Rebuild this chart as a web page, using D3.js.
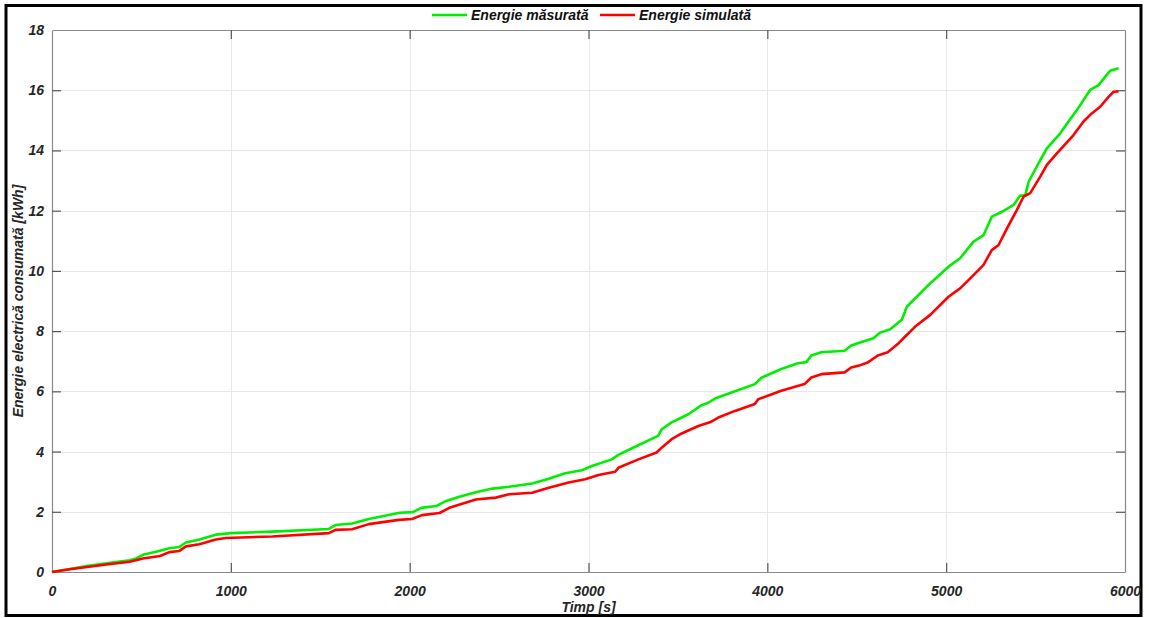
<!DOCTYPE html>
<html>
<head>
<meta charset="utf-8">
<script src="https://cdn.jsdelivr.net/npm/d3@7"></script>
<style>
  html, body { margin: 0; padding: 0; background: #fff; }
  svg { display: block; }
  text { font-family: "Liberation Sans", Arial, sans-serif; font-weight: bold; font-style: italic; }
</style>
</head>
<body>
<svg id="chart" width="1149" height="618"></svg>
<script>
// Cumulative consumed energy: measured series
const timeMeasured = [0,100,193,304,434,470,508,582,656,712,749,824,916,1000,1232,1548,1585,1678,1771,1944,2018,2065,2148,2204,2278,2370,2463,2556,2685,2778,2870,2963,3019,3130,3167,3278,3389,3409,3465,3558,3632,3670,3707,3819,3930,3967,4078,4171,4218,4246,4302,4432,4469,4519,4593,4631,4687,4752,4780,4892,5013,5078,5153,5209,5255,5321,5377,5414,5442,5461,5526,5563,5638,5684,5731,5805,5852,5917,5964];
const energyMeasured = [0,0.1,0.2,0.29,0.39,0.45,0.57,0.67,0.79,0.83,0.98,1.08,1.24,1.29,1.34,1.43,1.56,1.61,1.76,1.97,1.99,2.13,2.19,2.36,2.5,2.65,2.77,2.83,2.94,3.1,3.28,3.38,3.52,3.74,3.89,4.21,4.52,4.74,4.97,5.24,5.54,5.62,5.76,6.0,6.24,6.45,6.74,6.93,6.97,7.19,7.3,7.35,7.52,7.62,7.76,7.95,8.06,8.38,8.81,9.48,10.14,10.42,10.97,11.19,11.8,11.99,12.19,12.5,12.5,12.96,13.68,14.07,14.57,14.96,15.34,16.01,16.17,16.65,16.73];

// Cumulative consumed energy: simulated series
const timeSimulated = [0,100,304,434,508,604,656,712,749,824,916,972,1232,1548,1585,1678,1771,1939,2013,2069,2167,2222,2370,2481,2556,2685,2778,2889,2981,3056,3149,3167,3279,3381,3409,3465,3521,3614,3679,3726,3819,3930,3949,4078,4208,4246,4302,4432,4469,4519,4562,4618,4673,4729,4771,4827,4911,5013,5078,5153,5209,5255,5293,5340,5395,5433,5470,5526,5563,5619,5712,5768,5814,5861,5908,5936,5964];
const energySimulated = [0,0.09,0.25,0.34,0.45,0.53,0.66,0.7,0.85,0.92,1.08,1.13,1.18,1.29,1.4,1.42,1.59,1.73,1.76,1.89,1.96,2.13,2.41,2.47,2.58,2.63,2.8,2.97,3.08,3.22,3.33,3.46,3.74,3.97,4.13,4.41,4.6,4.85,4.97,5.13,5.35,5.58,5.74,6.02,6.24,6.46,6.57,6.63,6.79,6.87,6.96,7.19,7.3,7.57,7.82,8.15,8.54,9.14,9.42,9.86,10.2,10.69,10.86,11.41,12.02,12.47,12.58,13.13,13.52,13.9,14.51,14.96,15.23,15.45,15.78,15.95,15.96];

const xTicks = [0,1000,2000,3000,4000,5000,6000];
const yTicks = [0,2,4,6,8,10,12,14,16,18];
const seriesNames = ["Energie măsurată", "Energie simulată"];
const seriesColors = ["#00ee00", "#ff0000"];
const xTitle = "Timp [s]";
const yTitle = "Energie electrică consumată [kWh]";

const svg = d3.select("#chart");
const plotLeft = 52, plotRight = 1125, plotTop = 30, plotBottom = 572;

const x = d3.scaleLinear().domain([0, 6000]).range([plotLeft, plotRight]);
const y = d3.scaleLinear().domain([0, 18]).range([plotBottom, plotTop]);

// outer frame
svg.append("rect")
  .attr("x", 6).attr("y", 5.5).attr("width", 1135).attr("height", 610)
  .attr("fill", "none").attr("stroke", "#000").attr("stroke-width", 3);

// grid
const grid = svg.append("g").attr("stroke", "#e8e8e8").attr("stroke-width", 1);
grid.selectAll(".gx").data(xTicks.slice(1, -1)).enter().append("line")
  .attr("x1", d => Math.round(x(d)) + 0.5).attr("x2", d => Math.round(x(d)) + 0.5)
  .attr("y1", plotTop).attr("y2", plotBottom);
grid.selectAll(".gy").data(yTicks.slice(1, -1)).enter().append("line")
  .attr("y1", d => Math.round(y(d)) + 0.5).attr("y2", d => Math.round(y(d)) + 0.5)
  .attr("x1", plotLeft).attr("x2", plotRight);

// axes with inward ticks on all four sides
const tickLen = 9;
const axisColor = "#8a8a8a";
const styleAxis = g => {
  g.select(".domain").attr("stroke", axisColor).attr("stroke-width", 1.2);
  g.selectAll(".tick line").attr("stroke", "#555").attr("stroke-width", 1.2);
};

svg.append("g").attr("transform", `translate(0,${plotBottom})`)
  .call(d3.axisBottom(x).tickValues(xTicks).tickSize(-tickLen).tickSizeOuter(0).tickPadding(14).tickFormat(d3.format("d")))
  .call(styleAxis)
  .call(g => g.selectAll("text").attr("font-size", 14).attr("fill", "#262626"));

svg.append("g").attr("transform", `translate(0,${plotTop})`)
  .call(d3.axisTop(x).tickValues(xTicks).tickSize(-tickLen).tickSizeOuter(0).tickFormat(""))
  .call(styleAxis);

svg.append("g").attr("transform", `translate(${plotLeft},0)`)
  .call(d3.axisLeft(y).tickValues(yTicks).tickSize(-tickLen).tickSizeOuter(0).tickPadding(8).tickFormat(d3.format("d")))
  .call(styleAxis)
  .call(g => g.selectAll("text").attr("font-size", 14).attr("fill", "#262626"));

svg.append("g").attr("transform", `translate(${plotRight},0)`)
  .call(d3.axisRight(y).tickValues(yTicks).tickSize(-tickLen).tickSizeOuter(0).tickFormat(""))
  .call(styleAxis);

// ticks at the box corners are not drawn
svg.selectAll(".tick").filter(d => d === 0 || d === 6000 || d === 18).select("line").remove();

// series lines
const line = d3.line().x(d => x(d[0])).y(d => y(d[1]));
const series = [
  d3.zip(timeMeasured, energyMeasured),
  d3.zip(timeSimulated, energySimulated)
];
svg.selectAll(".series").data(series).enter().append("path")
  .attr("fill", "none")
  .attr("stroke", (d, i) => seriesColors[i])
  .attr("stroke-width", 2.6)
  .attr("stroke-linejoin", "round")
  .attr("d", line);

// legend
const legendItems = [
  { x: 432, name: seriesNames[0], color: seriesColors[0] },
  { x: 600, name: seriesNames[1], color: seriesColors[1] }
];
const lg = svg.append("g");
legendItems.forEach(it => {
  lg.append("line").attr("x1", it.x).attr("x2", it.x + 35).attr("y1", 15).attr("y2", 15)
    .attr("stroke", it.color).attr("stroke-width", 2.6);
  lg.append("text").attr("x", it.x + 39).attr("y", 20).attr("font-size", 14).attr("fill", "#111").text(it.name);
});

// axis titles
svg.append("text").attr("x", (plotLeft + plotRight) / 2).attr("y", 612).attr("text-anchor", "middle")
  .attr("font-size", 14).attr("fill", "#262626").text(xTitle);
svg.append("text").attr("transform", `translate(23,${(plotTop + plotBottom) / 2}) rotate(-90)`)
  .attr("text-anchor", "middle").attr("font-size", 14).attr("fill", "#262626").text(yTitle);
</script>
</body>
</html>
